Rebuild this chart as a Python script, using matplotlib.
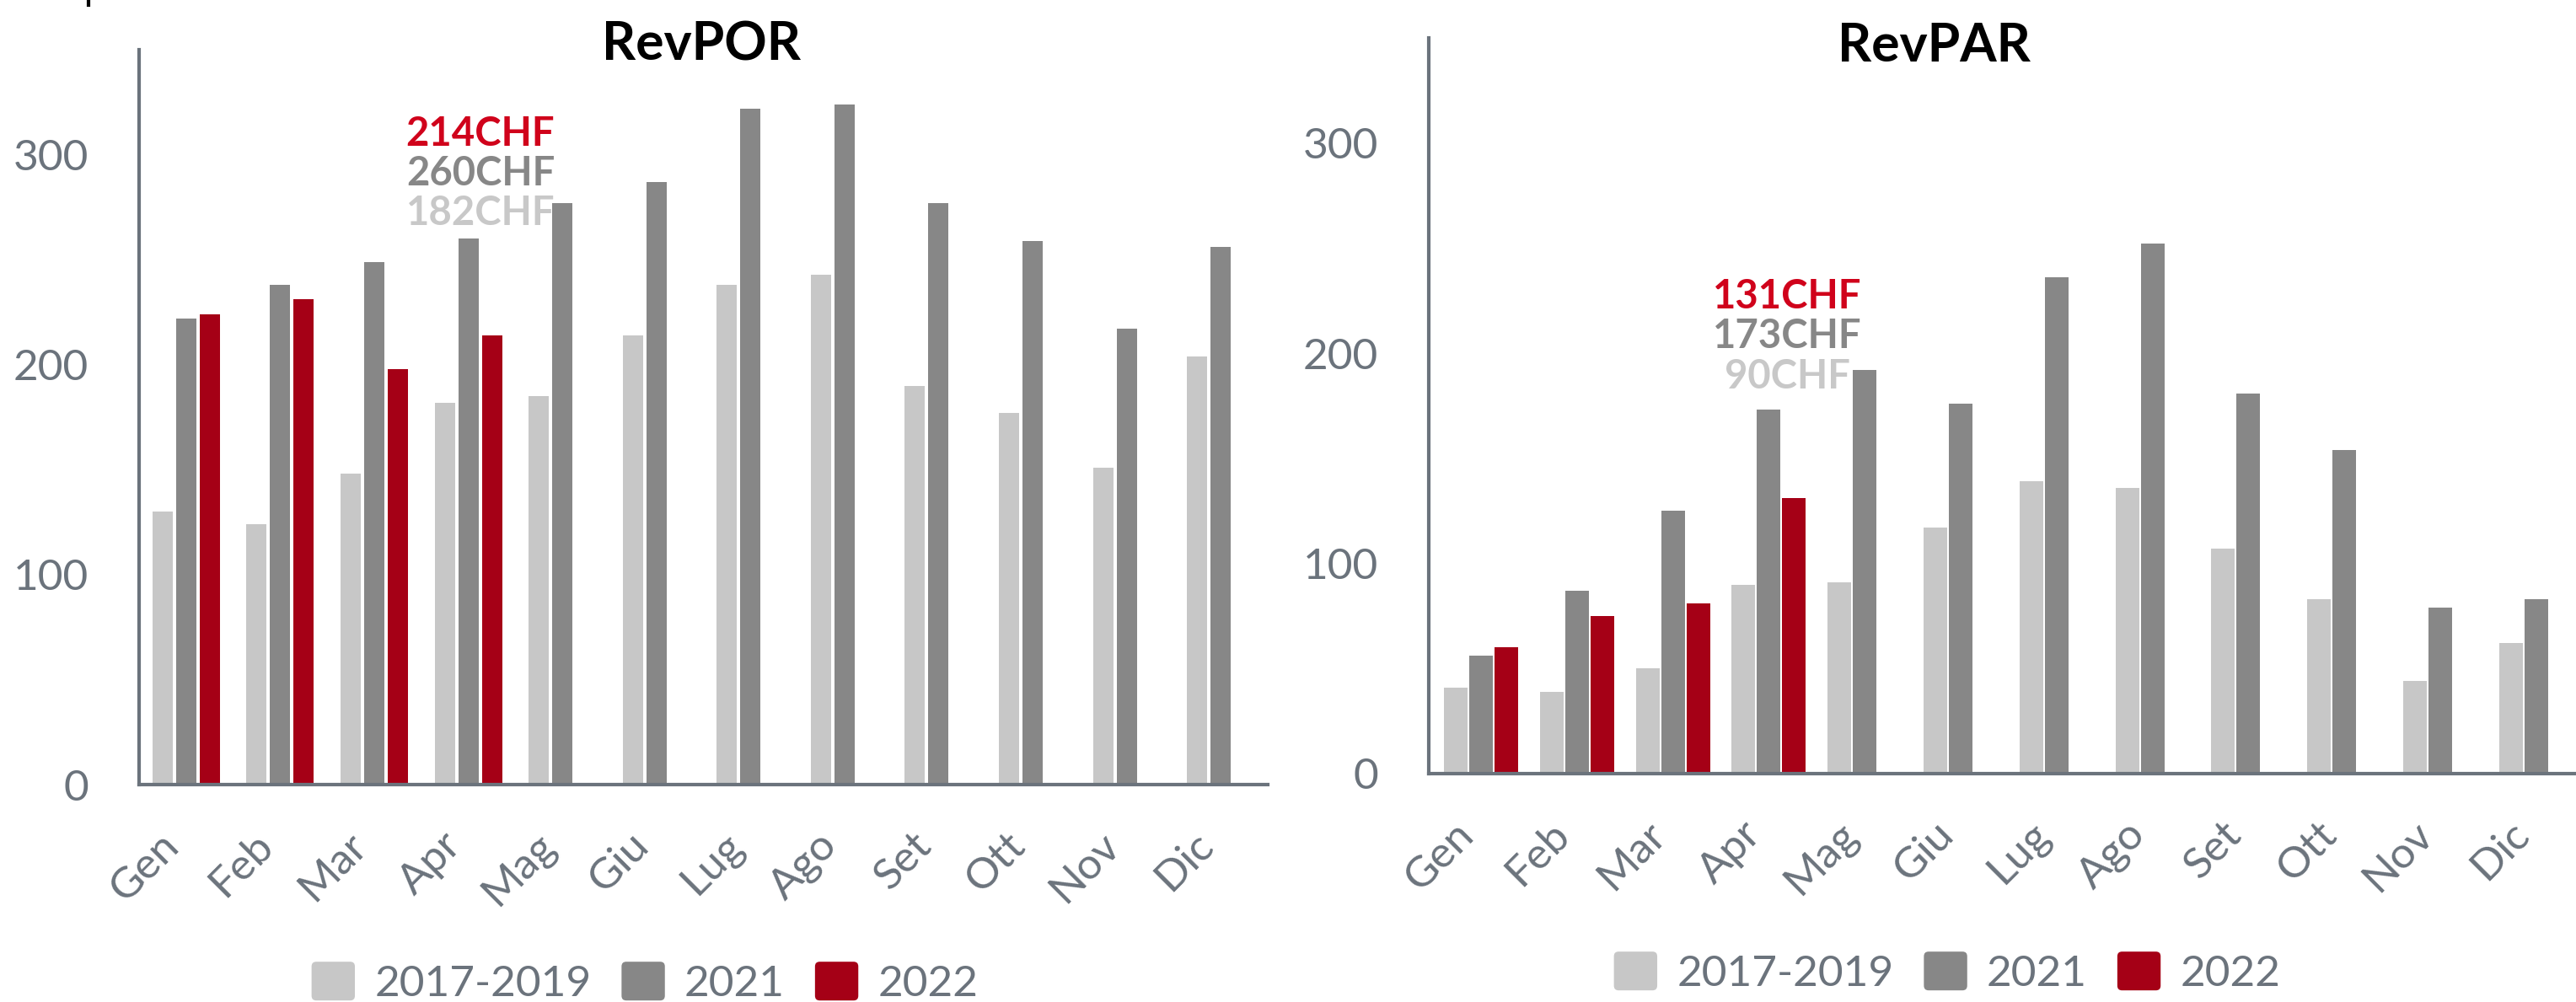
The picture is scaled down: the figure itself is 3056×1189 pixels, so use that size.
import numpy as np
import matplotlib.pyplot as plt
from matplotlib.patches import Patch, FancyBboxPatch
from matplotlib.legend_handler import HandlerPatch
from matplotlib.lines import Line2D

months = ['Gen', 'Feb', 'Mar', 'Apr', 'Mag', 'Giu', 'Lug', 'Ago', 'Set', 'Ott', 'Nov', 'Dic']
series = ['2017-2019', '2021', '2022']

revpor_1719 = [130, 124, 148, 182, 185, 214, 238, 243, 190, 177, 151, 204]
revpor_2021 = [222, 238, 249, 260, 277, 287, 322, 324, 277, 259, 217, 256]
revpor_2022 = [224, 231, 198, 214]

revpar_1719 = [41, 39, 50, 90, 91, 117, 139, 136, 107, 83, 44, 62]
revpar_2021 = [56, 87, 125, 173, 192, 176, 236, 252, 181, 154, 79, 83]
revpar_2022 = [60, 75, 81, 131]

light, dark, red = '#c7c7c7', '#878787', '#a50016'
label_colors = ['#d0021b', '#878787', '#c8c8c8']
axis_col = '#6b737c'

plt.rcParams['font.family'] = ['Lato', 'DejaVu Sans']

W, H = 3056, 1189
fig = plt.figure(figsize=(W / 100, H / 100), dpi=100)


class RoundHandler(HandlerPatch):
    def create_artists(self, legend, orig_handle, xdescent, ydescent,
                       width, height, fontsize, trans):
        p = FancyBboxPatch((-xdescent, -ydescent), width, height,
                           boxstyle='round,pad=0,rounding_size=4',
                           fc=orig_handle.get_facecolor(), ec='none',
                           transform=trans)
        return [p]


def px_axes(x0, x1, y_top, y_bot):
    return fig.add_axes([x0 / W, 1 - y_bot / H, (x1 - x0) / W, (y_bot - y_top) / H])


def draw(ax, v1719, v2021, v2022, pitch, width, xlim, labels, lab_x, lab_y):
    x = np.arange(len(months))
    ax.bar(x - pitch, v1719, width, color=light, zorder=2)
    ax.bar(x, v2021, width, color=dark, zorder=2)
    ax.bar(x[:len(v2022)] + pitch, v2022, width, color=red, zorder=2)
    ax.set_xlim(*xlim)
    ax.set_ylim(0, 350)
    ax.set_yticks([0, 100, 200, 300])
    ax.set_xticks(x)
    ax.set_xticklabels(months, rotation=45, ha='right')
    for s in ['top', 'right']:
        ax.spines[s].set_visible(False)
    for s in ['left', 'bottom']:
        ax.spines[s].set_color(axis_col)
        ax.spines[s].set_linewidth(3)
    ax.tick_params(axis='both', length=0, labelsize=37, labelcolor=axis_col)
    ax.tick_params(axis='y', pad=43)
    ax.tick_params(axis='x', pad=35)
    for i, (t, c) in enumerate(zip(labels, label_colors)):
        ax.text(lab_x, lab_y[i], t, color=c, fontsize=34, fontweight='bold',
                ha='center', va='center', zorder=1)


ax1 = px_axes(165, 1504, 59, 931)
draw(ax1, revpor_1719, revpor_2021, revpor_2022, 0.251, 0.215, (-0.5, 11.5),
     ['214CHF', '260CHF', '182CHF'], 3.13, [310, 291, 272])

ax2 = px_axes(1695, 3056, 45, 918)
draw(ax2, revpar_1719, revpar_2021, revpar_2022, 0.2636, 0.246, (-0.545, 11.415),
     ['131CHF', '173CHF', '90CHF'], 3.19, [227, 208, 189])

fig.text(832 / W, 1 - 72 / H, 'RevPOR', fontsize=45, fontweight='bold',
         ha='center', va='baseline')
fig.text(2294 / W, 1 - 73 / H, 'RevPAR', fontsize=45, fontweight='bold',
         ha='center', va='baseline')

handles = [Patch(color=c) for c in [light, dark, red]]
for cx, cy in [(765, 1166), (2310, 1154)]:
    fig.legend(handles, series, loc='center', bbox_to_anchor=(cx / W, 1 - cy / H),
               ncol=3, frameon=False, fontsize=37, labelcolor=axis_col,
               handlelength=1.0, handleheight=1.0, handletextpad=0.45,
               columnspacing=0.7, borderpad=0,
               handler_map={Patch: RoundHandler()})

fig.add_artist(Line2D([105 / W, 105 / W], [1, 1 - 6 / H], color='black', lw=3))

fig.savefig('out.png', dpi=100)
